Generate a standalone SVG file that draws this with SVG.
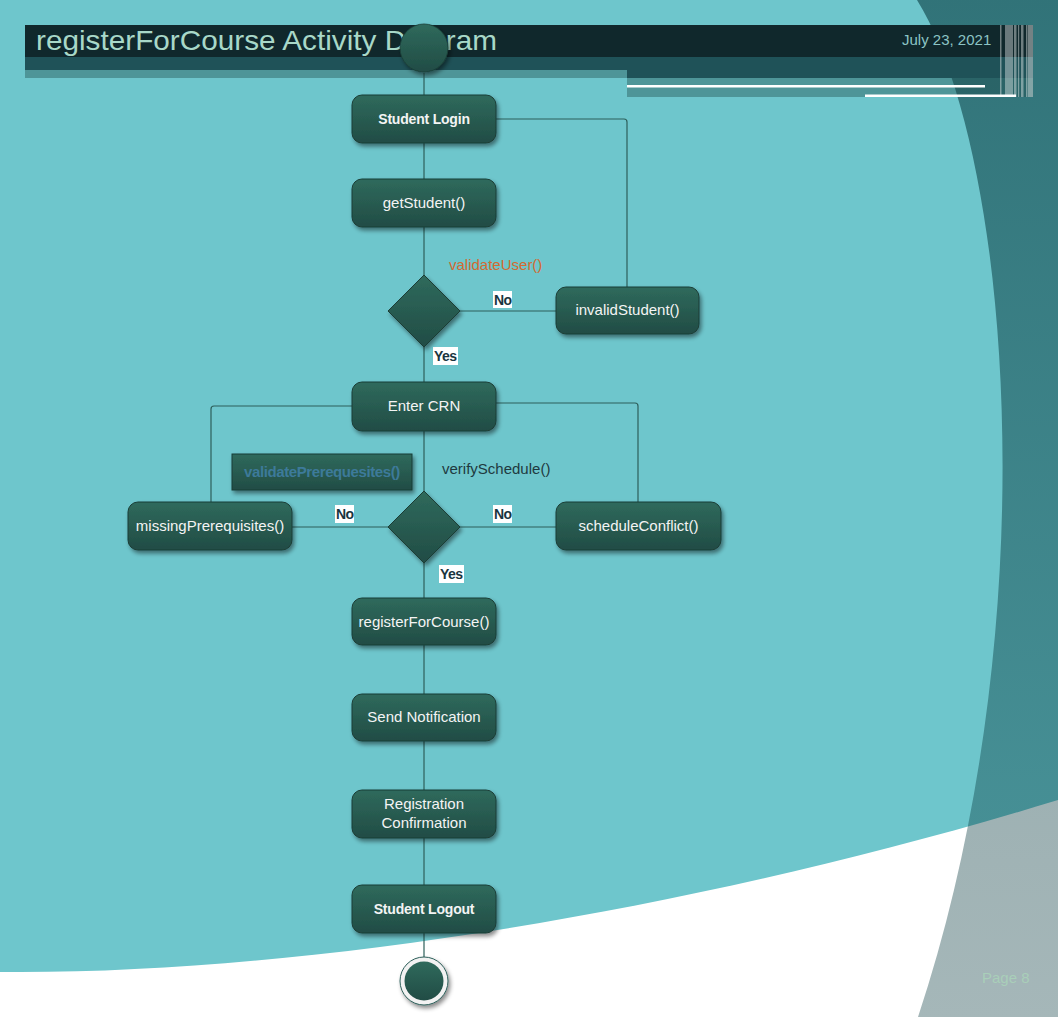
<svg xmlns="http://www.w3.org/2000/svg" width="1058" height="1017" viewBox="0 0 1058 1017">
<defs>
<linearGradient id="nodeGrad" x1="0" y1="0" x2="0" y2="1">
<stop offset="0" stop-color="#2F6A5C"/>
<stop offset="1" stop-color="#214C45"/>
</linearGradient>
<linearGradient id="bandGrad" x1="0" y1="0" x2="0" y2="1">
<stop offset="0" stop-color="#05373C" stop-opacity="0.58"/>
<stop offset="0.77" stop-color="#05373C" stop-opacity="0.39"/>
<stop offset="1" stop-color="#05373C" stop-opacity="0.36"/>
</linearGradient>
<filter id="shadow" x="-20%" y="-20%" width="140%" height="150%">
<feDropShadow dx="2" dy="3" stdDeviation="2" flood-color="#000" flood-opacity="0.45"/>
</filter>
<style>
.node{fill:url(#nodeGrad);stroke:#1B3D36;stroke-width:1;filter:url(#shadow)}
.ntext{font-family:"Liberation Sans",Arial,sans-serif;font-size:15px;fill:#F4F4F4;text-anchor:middle}
.bold{font-weight:bold;font-size:14px;letter-spacing:-0.2px}
.conn{fill:none;stroke:#2D5F5A;stroke-width:1.2}
.lblbg{fill:#FFFFFF}
.lbl{font-family:"Liberation Sans",Arial,sans-serif;font-size:14px;font-weight:bold;fill:#1A3540;letter-spacing:-0.6px}
.note{font-family:"Liberation Sans",Arial,sans-serif;font-size:15px}
</style>
</defs>

<!-- background -->
<rect x="0" y="0" width="1058" height="1017" fill="#FFFFFF"/>
<path d="M0,0 H1058 V800 C700,910 300,975 0,972 Z" fill="#6EC6CC"/>
<path d="M917,0 C1010,150 1050,620 918,1017 H1058 V0 Z" fill="url(#bandGrad)"/>

<!-- header -->
<rect x="25" y="25" width="1008" height="32" fill="#10282C"/>
<rect x="25" y="57" width="1008" height="13" fill="#1F5258"/>
<rect x="627" y="70" width="406" height="8" fill="#1F5258"/>
<rect x="25" y="70" width="602" height="8" fill="#1E4A4A" fill-opacity="0.4"/>
<rect x="627" y="78" width="406" height="19" fill="#1E4A4A" fill-opacity="0.4"/>
<rect x="627" y="85" width="358" height="2.5" fill="#FFFFFF"/>
<rect x="865" y="94.5" width="151" height="2.5" fill="#FFFFFF"/>
<g fill="#FFFFFF">
<rect x="1000" y="25" width="1.5" height="72" fill-opacity="0.4"/>
<rect x="1005" y="25" width="8" height="72" fill-opacity="0.38"/>
<rect x="1014" y="25" width="2.5" height="72" fill-opacity="0.4"/>
<rect x="1018" y="25" width="1.2" height="72" fill-opacity="0.4"/>
<rect x="1021" y="25" width="2.5" height="72" fill-opacity="0.4"/>
<rect x="1026" y="25" width="1" height="72" fill-opacity="0.4"/>
<rect x="1027.5" y="25" width="5.5" height="72" fill-opacity="0.42"/>
</g>
<text x="36" y="50" font-family="'Liberation Sans',Arial,sans-serif" font-size="28" fill="#A8D8C8" textLength="461" lengthAdjust="spacingAndGlyphs">registerForCourse Activity Diagram</text>
<text x="902" y="45" font-family="'Liberation Sans',Arial,sans-serif" font-size="15" fill="#8CC4C4">July 23, 2021</text>
<text x="982" y="983" font-family="'Liberation Sans',Arial,sans-serif" font-size="15" fill="#A9CFB9">Page 8</text>

<!-- connectors -->
<g id="connectors">
<path class="conn" d="M424,73 V95"/>
<path class="conn" d="M424,143 V179"/>
<path class="conn" d="M424,227 V275"/>
<path class="conn" d="M460,311 H556"/>
<path class="conn" d="M627,287 V122 Q627,119 624,119 H496"/>
<path class="conn" d="M424,347 V382"/>
<path class="conn" d="M424,431 V491"/>
<path class="conn" d="M460,527 H556"/>
<path class="conn" d="M388,527 H292"/>
<path class="conn" d="M638,502 V406 Q638,403 635,403 H496"/>
<path class="conn" d="M211,502 V409 Q211,406 214,406 H352"/>
<path class="conn" d="M424,563 V598"/>
<path class="conn" d="M424,645 V694"/>
<path class="conn" d="M424,741 V790"/>
<path class="conn" d="M424,838 V885"/>
<path class="conn" d="M424,933 V957"/>
<rect class="lblbg" x="493" y="291" width="19" height="17"/>
<text class="lbl" x="494" y="305">No</text>
<rect class="lblbg" x="433" y="347" width="25" height="18"/>
<text class="lbl" x="434" y="361">Yes</text>
<rect class="lblbg" x="335" y="505" width="19" height="18"/>
<text class="lbl" x="336" y="519">No</text>
<rect class="lblbg" x="493" y="505" width="19" height="18"/>
<text class="lbl" x="494" y="519">No</text>
<rect class="lblbg" x="439" y="565" width="25" height="18"/>
<text class="lbl" x="440" y="579">Yes</text>
<text class="note" x="449" y="270" fill="#D46A30">validateUser()</text>
<text class="note" x="442" y="474" fill="#1F3A40">verifySchedule()</text>
</g>

<!-- nodes -->
<g id="start">
<circle cx="424" cy="48" r="24" fill="url(#nodeGrad)" stroke="#1B3D36" stroke-width="0.8" filter="url(#shadow)"/>
</g>
<g id="studentLogin">
<rect class="node" x="352" y="95" width="144" height="48" rx="10"/>
<text class="ntext bold" x="424" y="124">Student Login</text>
</g>
<g id="getStudent">
<rect class="node" x="352" y="179" width="144" height="48" rx="10"/>
<text class="ntext" x="424" y="208">getStudent()</text>
</g>
<g id="decision1">
<polygon class="node" points="424,275 460,311 424,347 388,311"/>
</g>
<g id="invalidStudent">
<rect class="node" x="556" y="287" width="143" height="47" rx="10"/>
<text class="ntext" x="627.5" y="315">invalidStudent()</text>
</g>
<g id="enterCRN">
<rect class="node" x="352" y="382" width="144" height="49" rx="10"/>
<text class="ntext" x="424" y="411">Enter CRN</text>
</g>
<g id="validatePrerequesites">
<rect class="node" x="232" y="454" width="180" height="36" rx="0"/>
<text class="note" x="322" y="477" text-anchor="middle" font-weight="bold" fill="#3D7A9A" letter-spacing="-0.4">validatePrerequesites()</text>
</g>
<g id="missingPrerequisites">
<rect class="node" x="128" y="502" width="164" height="48" rx="10"/>
<text class="ntext" x="210" y="531">missingPrerequisites()</text>
</g>
<g id="decision2">
<polygon class="node" points="424,491 460,527 424,563 388,527"/>
</g>
<g id="scheduleConflict">
<rect class="node" x="556" y="502" width="165" height="48" rx="10"/>
<text class="ntext" x="638.5" y="531">scheduleConflict()</text>
</g>
<g id="registerForCourse">
<rect class="node" x="352" y="598" width="144" height="47" rx="10"/>
<text class="ntext" x="424" y="627">registerForCourse()</text>
</g>
<g id="sendNotification">
<rect class="node" x="352" y="694" width="144" height="47" rx="10"/>
<text class="ntext" x="424" y="722">Send Notification</text>
</g>
<g id="registrationConfirmation">
<rect class="node" x="352" y="790" width="144" height="48" rx="10"/>
<text class="ntext" x="424" y="809">Registration</text>
<text class="ntext" x="424" y="828">Confirmation</text>
</g>
<g id="studentLogout">
<rect class="node" x="352" y="885" width="144" height="48" rx="10"/>
<text class="ntext bold" x="424" y="914">Student Logout</text>
</g>
<g id="end">
<circle cx="424" cy="981" r="24" fill="#F2F2F2" stroke="#2D5F5A" stroke-width="1" filter="url(#shadow)"/>
<circle cx="424" cy="981" r="19.5" fill="url(#nodeGrad)"/>
</g>
</svg>
